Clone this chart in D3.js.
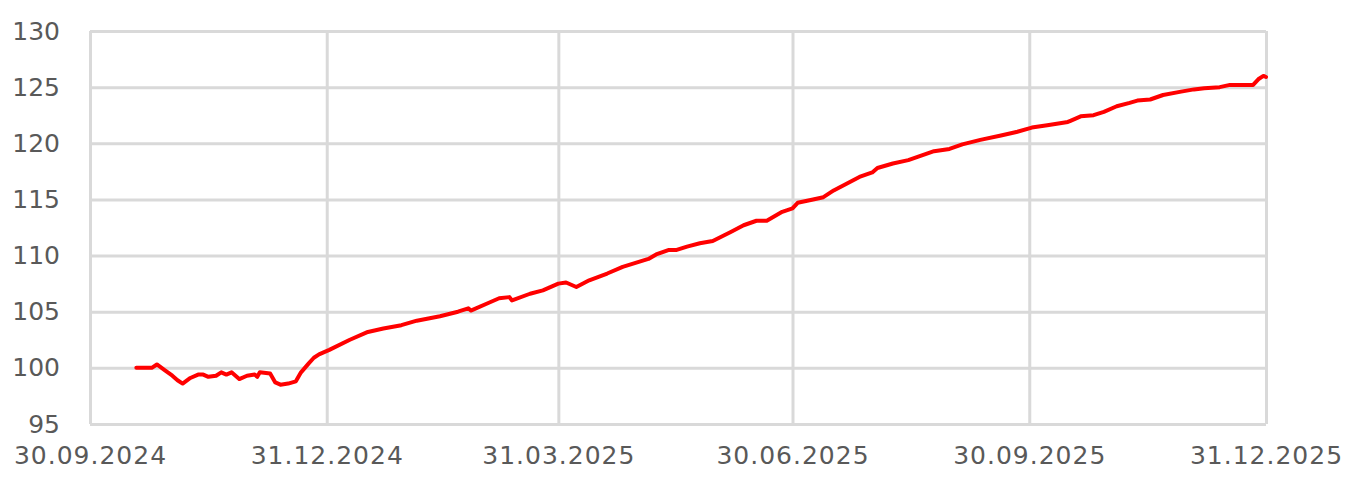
<!DOCTYPE html>
<html>
<head>
<meta charset="utf-8">
<script src="https://cdn.jsdelivr.net/npm/d3@7"></script>
<style>
  body { margin: 0; background: #fff; }
  svg text { font-family: "DejaVu Sans", sans-serif; fill: #595959; }
</style>
</head>
<body>
<svg id="chart" width="1347" height="488"></svg>
<script>
const dates = [
  "2024-10-18", "2024-10-24", "2024-10-26", "2024-10-29", "2024-11-01", "2024-11-03",
  "2024-11-05", "2024-11-08", "2024-11-11", "2024-11-13", "2024-11-15", "2024-11-18",
  "2024-11-20", "2024-11-22", "2024-11-24", "2024-11-27", "2024-11-30", "2024-12-03",
  "2024-12-04", "2024-12-05", "2024-12-09", "2024-12-11", "2024-12-13", "2024-12-16",
  "2024-12-19", "2024-12-21", "2024-12-24", "2024-12-26", "2024-12-28", "2024-12-30",
  "2025-01-01", "2025-01-09", "2025-01-16", "2025-01-22", "2025-01-29", "2025-02-04",
  "2025-02-13", "2025-02-20", "2025-02-24", "2025-02-25", "2025-03-04", "2025-03-08",
  "2025-03-12", "2025-03-13", "2025-03-20", "2025-03-25", "2025-03-31", "2025-04-03",
  "2025-04-07", "2025-04-12", "2025-04-19", "2025-04-25", "2025-05-05", "2025-05-08",
  "2025-05-13", "2025-05-16", "2025-05-20", "2025-05-25", "2025-05-30", "2025-06-06",
  "2025-06-11", "2025-06-16", "2025-06-20", "2025-06-26", "2025-06-30", "2025-07-02",
  "2025-07-08", "2025-07-12", "2025-07-16", "2025-07-21", "2025-07-26", "2025-07-31",
  "2025-08-02", "2025-08-08", "2025-08-14", "2025-08-19", "2025-08-24", "2025-08-30",
  "2025-09-04", "2025-09-11", "2025-09-19", "2025-09-25", "2025-10-01", "2025-10-07",
  "2025-10-15", "2025-10-16", "2025-10-20", "2025-10-25", "2025-10-29", "2025-11-03",
  "2025-11-08", "2025-11-11", "2025-11-16", "2025-11-21", "2025-11-28", "2025-12-03",
  "2025-12-07", "2025-12-13", "2025-12-17", "2025-12-26", "2025-12-28", "2025-12-30",
  "2025-12-31"
];
const values = [
  100.0, 100.0, 100.3, 99.8, 99.3, 98.9,
  98.6, 99.1, 99.4, 99.4, 99.2, 99.3,
  99.6, 99.4, 99.6, 99.0, 99.3, 99.4,
  99.2, 99.6, 99.5, 98.7, 98.5, 98.6,
  98.8, 99.6, 100.4, 100.9, 101.2, 101.4,
  101.6, 102.5, 103.2, 103.5, 103.8, 104.2,
  104.6, 105.0, 105.3, 105.1, 105.8, 106.2,
  106.3, 106.0, 106.6, 106.9, 107.5, 107.6,
  107.2, 107.8, 108.4, 109.0, 109.7, 110.1,
  110.5, 110.5, 110.8, 111.1, 111.3, 112.1,
  112.7, 113.1, 113.1, 113.9, 114.2, 114.7,
  115.0, 115.2, 115.8, 116.4, 117.0, 117.4,
  117.8, 118.2, 118.5, 118.9, 119.3, 119.5,
  119.9, 120.3, 120.7, 121.0, 121.4, 121.6,
  121.9, 122.0, 122.4, 122.5, 122.8, 123.3,
  123.6, 123.8, 123.9, 124.3, 124.6, 124.8,
  124.9, 125.0, 125.2, 125.2, 125.7, 126.0,
  125.9
];
const xTickDates = ["2024-09-30", "2024-12-31", "2025-03-31", "2025-06-30", "2025-09-30", "2025-12-31"];
const yTicks = [95, 100, 105, 110, 115, 120, 125, 130];

const parse = d3.timeParse("%Y-%m-%d");
const fmt = d3.timeFormat("%d.%m.%Y");
const data = dates.map((d, i) => ({ date: parse(d), value: values[i] }));

const svg = d3.select("#chart");
const margin = { top: 31, right: 81, bottom: 64, left: 90 };
const width = 1347, height = 488;

const x = d3.scaleTime()
  .domain([parse(xTickDates[0]), parse(xTickDates[xTickDates.length - 1])])
  .range([margin.left, width - margin.right]);
const y = d3.scaleLinear()
  .domain([95, 130])
  .range([height - margin.bottom, margin.top]);

// horizontal grid + y labels
const yAxis = svg.append("g")
  .attr("transform", `translate(${margin.left},0)`)
  .call(d3.axisLeft(y).tickValues(yTicks).tickSize(-(width - margin.left - margin.right)).tickPadding(30));
yAxis.select(".domain").remove();
yAxis.selectAll(".tick line").attr("stroke", "#d9d9d9").attr("stroke-width", 3);
yAxis.selectAll(".tick text").style("font-size", "25px");

// vertical grid + x labels
const xAxis = svg.append("g")
  .attr("transform", `translate(0,${height - margin.bottom})`)
  .call(d3.axisBottom(x).tickValues(xTickDates.map(parse)).tickFormat(fmt)
    .tickSize(-(height - margin.top - margin.bottom)).tickPadding(22));
xAxis.select(".domain").remove();
xAxis.selectAll(".tick line").attr("stroke", "#d9d9d9").attr("stroke-width", 3);
xAxis.selectAll(".tick text").style("font-size", "25px").style("letter-spacing", "1px");

// line
const line = d3.line()
  .x(d => x(d.date))
  .y(d => y(d.value));

svg.append("path")
  .datum(data)
  .attr("fill", "none")
  .attr("stroke", "#ff0000")
  .attr("stroke-width", 4)
  .attr("stroke-linejoin", "round")
  .attr("stroke-linecap", "round")
  .attr("d", line);
</script>
</body>
</html>
